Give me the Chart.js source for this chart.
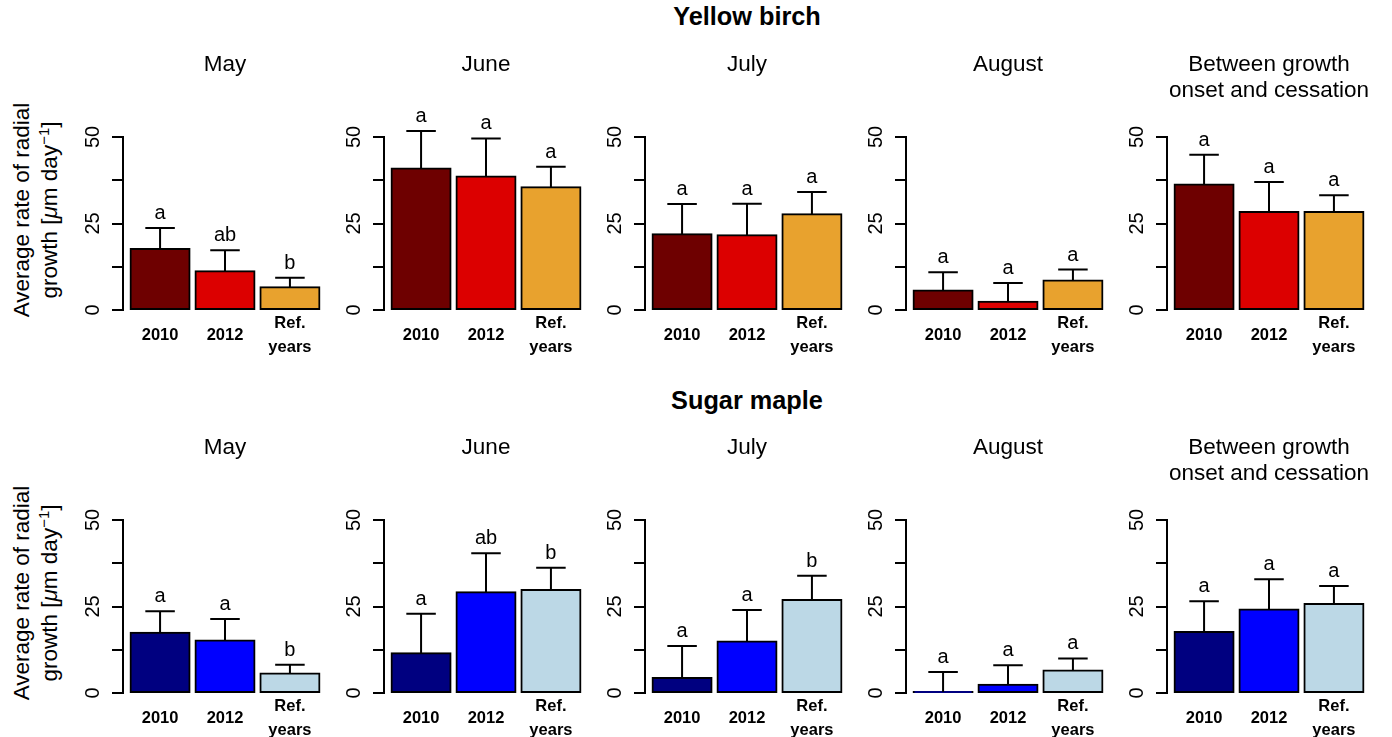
<!DOCTYPE html>
<html>
<head>
<meta charset="utf-8">
<script src="https://cdn.jsdelivr.net/npm/chart.js@4"></script>
<style>
  body { margin: 0; background: #fff; width: 1392px; height: 737px; position: relative; overflow: hidden;
         font-family: "Liberation Sans", Arial, sans-serif; color: #000; }
  canvas { position: absolute; }
  .main { position: absolute; width: 400px; text-align: center; font-weight: bold; font-size: 25.3px; line-height: 30px; }
  .ylab { position: absolute; width: 300px; height: 56px; text-align: center; font-size: 22.5px; line-height: 28px;
          transform: rotate(-90deg); transform-origin: 50% 50%; white-space: nowrap; }
  .ylab sup { font-size: 15px; line-height: 0; }
</style>
</head>
<body>

<div class="main" style="left:547px; top:1px;">Yellow birch</div>
<div class="main" style="left:547px; top:385px;">Sugar maple</div>
<div class="ylab" style="left:-114px; top:182px;">Average rate of radial<br>growth [<i>μ</i>m day<sup>−1</sup>]</div>
<div class="ylab" style="left:-114px; top:564.5px;">Average rate of radial<br>growth [<i>μ</i>m day<sup>−1</sup>]</div>

<script>
// ---- data ----
const panelTitles = ['May', 'June', 'July', 'August', ['Between growth', 'onset and cessation']];
const yearLabels = ['2010', '2012', ['Ref.', 'years']];
const yTickLabels = [0, 25, 50];

// Yellow birch: mean and standard error per panel (2010, 2012, ref. years)
const birchMeans = [[17.6, 11.2, 6.6], [40.9, 38.6, 35.5], [21.9, 21.6, 27.7], [5.6, 2.4, 8.5], [36.3, 28.3, 28.3]];
const birchSE    = [[6.1, 6.1, 2.7], [10.8, 11.0, 5.9], [8.7, 9.1, 6.4], [5.3, 5.4, 3.2], [8.6, 8.7, 4.9]];
const birchLetters = [['a', 'ab', 'b'], ['a', 'a', 'a'], ['a', 'a', 'a'], ['a', 'a', 'a'], ['a', 'a', 'a']];

// Sugar maple
const mapleMeans = [[17.4, 15.2, 5.6], [11.5, 29.1, 29.8], [4.3, 14.9, 26.9], [0.3, 2.4, 6.5], [17.6, 24.1, 25.7]];
const mapleSE    = [[6.2, 6.2, 2.6], [11.4, 11.3, 6.4], [9.3, 9.1, 7.0], [5.8, 5.6, 3.5], [8.9, 8.8, 5.2]];
const mapleLetters = [['a', 'a', 'b'], ['a', 'ab', 'b'], ['a', 'a', 'b'], ['a', 'a', 'a'], ['a', 'a', 'a']];

const birchColors = ['#6e0000', '#dc0000', '#e8a22e'];
const mapleColors = ['#000080', '#0000ff', '#bcd8e6'];

// ---- layout ----
const axisX = [123.3, 384.2, 645.1, 906, 1166.9];
const rowTop = [40, 422.6];
const FONT = '"Liberation Sans", Arial, sans-serif';

// error bars, letters and rotated y tick labels
const extras = {
  id: 'extras',
  afterDatasetsDraw(chart, args, opts) {
    const ctx = chart.ctx;
    const y = chart.scales.y;
    const meta = chart.getDatasetMeta(0);
    const vals = chart.data.datasets[0].data;
    ctx.save();
    ctx.strokeStyle = '#000';
    ctx.lineWidth = 2;
    ctx.fillStyle = '#000';
    ctx.font = '20px ' + FONT;
    ctx.textAlign = 'center';
    ctx.textBaseline = 'alphabetic';
    meta.data.forEach((bar, i) => {
      const top = y.getPixelForValue(vals[i].y + opts.se[i]);
      const half = bar.width / 4;
      ctx.beginPath();
      ctx.moveTo(bar.x, bar.y);
      ctx.lineTo(bar.x, top);
      ctx.moveTo(bar.x - half, top);
      ctx.lineTo(bar.x + half, top);
      ctx.stroke();
      ctx.fillText(opts.letters[i], bar.x, top - 9);
    });
    ctx.textBaseline = 'middle';
    yTickLabels.forEach(v => {
      ctx.save();
      ctx.translate(y.right - 30, y.getPixelForValue(v));
      ctx.rotate(-Math.PI / 2);
      ctx.fillText(String(v), 0, 0);
      ctx.restore();
    });
    ctx.restore();
  }
};

function makePanel(row, col, means, se, letters, colors) {
  const c = document.createElement('canvas');
  c.width = 264;
  c.height = 320;
  c.style.left = (axisX[col] - 60) + 'px';
  c.style.top = rowTop[row] + 'px';
  document.body.appendChild(c);

  const title = panelTitles[col];
  const nLines = Array.isArray(title) ? title.length : 1;

  new Chart(c, {
    type: 'bar',
    data: {
      datasets: [{
        data: means.map((v, i) => ({ x: i, y: v })),
        backgroundColor: colors,
        borderColor: '#000',
        borderWidth: 2,
        borderSkipped: false,
        inflateAmount: 1,
        barPercentage: 0.909,
        categoryPercentage: 1
      }]
    },
    options: {
      responsive: false,
      animation: false,
      events: [],
      layout: { padding: 0 },
      plugins: {
        legend: { display: false },
        tooltip: { enabled: false },
        title: {
          display: true,
          text: title,
          fullSize: false,
          color: '#000',
          font: { family: FONT, size: 22.5, weight: 'normal', lineHeight: 26 / 22.5 },
          padding: { top: 12, bottom: 85 - 26 * nLines }
        },
        extras: { se: se, letters: letters }
      },
      scales: {
        x: {
          type: 'linear',
          min: -0.571,
          max: 2.571,
          offset: false,
          afterBuildTicks: s => { s.ticks = [0, 1, 2].map(v => ({ value: v })); },
          afterFit: s => { s.height = 50; },
          grid: { display: false, drawTicks: false },
          border: { display: false },
          ticks: {
            autoSkip: false,
            maxRotation: 0,
            padding: 13,
            crossAlign: 'center',
            color: '#000',
            font: { family: FONT, size: 16.5, weight: 'bold', lineHeight: 24 / 16.5 },
            callback: v => yearLabels[v]
          }
        },
        y: {
          min: 0,
          max: 50,
          afterFit: s => { s.width = 60; },
          ticks: { stepSize: 12.5, display: false },
          grid: { drawOnChartArea: false, drawTicks: true, tickLength: 11, color: '#000', lineWidth: 2 },
          border: { display: true, color: '#000', width: 2 }
        }
      }
    },
    plugins: [extras]
  });
}

for (let col = 0; col < 5; col++) {
  makePanel(0, col, birchMeans[col], birchSE[col], birchLetters[col], birchColors);
  makePanel(1, col, mapleMeans[col], mapleSE[col], mapleLetters[col], mapleColors);
}
</script>
</body>
</html>
